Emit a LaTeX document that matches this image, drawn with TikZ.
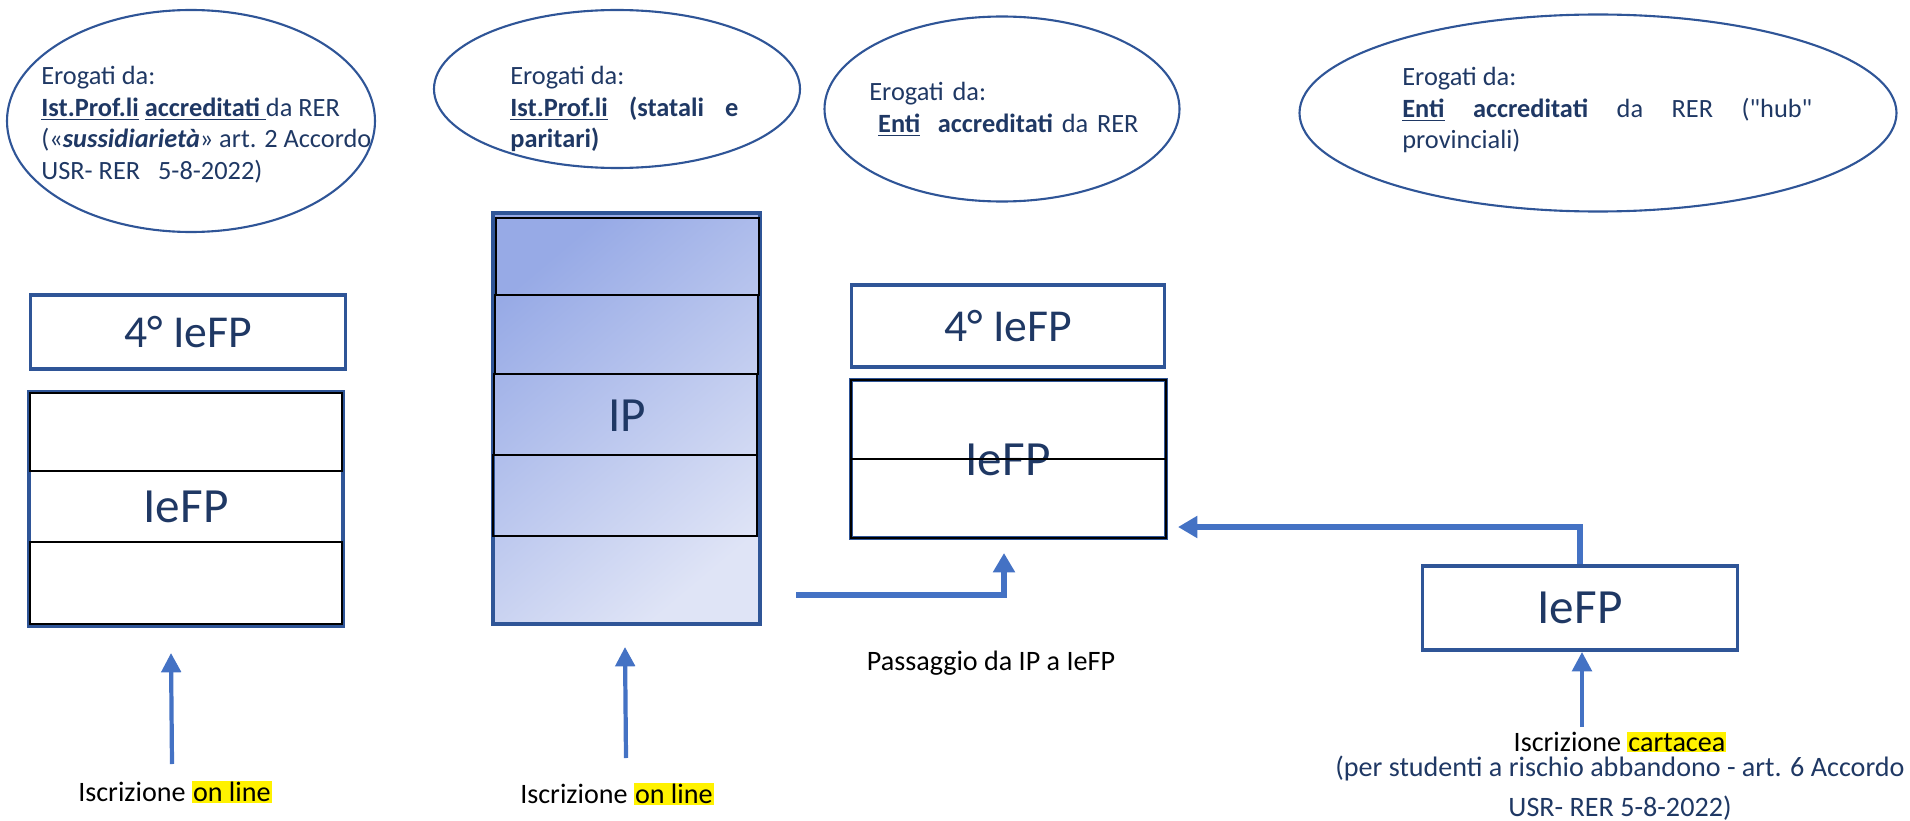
\documentclass[tikz,border=0pt]{standalone}
\usepackage{fontspec}
\setmainfont{Carlito}[Ligatures=TeXOff]
\usepackage{xcolor}
\usepackage{tikz}
\usetikzlibrary{arrows,arrows.meta,positioning,shapes.geometric}
\definecolor{boxblue}{HTML}{2F5597}
\definecolor{arrowblue}{HTML}{4472C4}
\definecolor{navy}{HTML}{1F3864}
\definecolor{ipdark}{HTML}{97AAE6}
\definecolor{iplight}{HTML}{DFE4F6}
\setlength{\fboxsep}{0.6pt}
\newcommand{\hl}[1]{\colorbox{yellow}{#1}}
\tikzset{
  oval/.style={ellipse, draw=boxblue, line width=1.2pt, inner sep=0pt},
  ovaltext/.style={anchor=north west, text=navy, align=justify, font=\fontsize{15}{18}\selectfont, inner sep=0pt},
  yearbox/.style={draw=boxblue, line width=2.2pt, text=navy, font=\fontsize{26}{30}\selectfont},
  rowline/.style={draw=black, line width=1pt},
  flow/.style={draw=arrowblue, line width=3.3pt, -{Triangle[length=11pt,width=12pt]}},
  upflow/.style={draw=arrowblue, line width=2.4pt, -{Triangle[length=11pt,width=11pt]}},
  note/.style={font=\fontsize{16}{20}\selectfont},
}
\begin{document}
\begin{tikzpicture}[x=0.2mm, y=-0.2mm]
\useasboundingbox (0,0) rectangle (1910,821);
%%%%% Ovals %%%%%
\node[oval, minimum width=368*0.2mm, minimum height=222*0.2mm] (ovalA) at (191,121) {};
\node[oval, minimum width=366*0.2mm, minimum height=158*0.2mm] (ovalB) at (617,89) {};
\node[oval, minimum width=355*0.2mm, minimum height=185*0.2mm] (ovalC) at (1002,109) {};
\node[oval, minimum width=597*0.2mm, minimum height=197*0.2mm] (ovalD) at (1598,113) {};
\node[ovaltext, text width=330*0.2mm] (textA) at (41,66) {Erogati da:\\
  \underline{\textbf{Ist.Prof.li}} \underline{\textbf{accreditati }}da RER\\
  («\textbf{\textit{sussidiarietà}}» art. 2 Accordo\linebreak USR- RER\ \ \ 5-8-2022)};
\node[ovaltext, text width=228*0.2mm] (textB) at (510,66) {Erogati da:\\
  \underline{\textbf{Ist.Prof.li}} \textbf{(statali e\linebreak paritari)}};
\node[ovaltext, text width=300*0.2mm, align=left] (textC) at (869,82) {Erogati da:\\
  \ \underline{\textbf{Enti}}\ \ \textbf{accreditati} da RER};
\node[ovaltext, text width=410*0.2mm] (textD) at (1402,67) {Erogati da:\\
  \underline{\textbf{Enti}} \textbf{accreditati} da RER ("hub"\linebreak provinciali)};
%%%%% Left column %%%%%
\node[yearbox, minimum width=315*0.2mm, minimum height=74*0.2mm] (yearA) at (188,332) {4° IeFP};
\draw[boxblue, line width=2.2pt] (29,392) rectangle (343,626);
\draw[rowline] (30,393) rectangle (342,471);
\draw[rowline] (30,542) rectangle (342,624);
\node[text=navy, font=\fontsize{28}{32}\selectfont] (iefpA) at (186,507) {IeFP};
%%%%% IP column %%%%%
\draw[boxblue, line width=2.2pt, top color=ipdark, bottom color=iplight, shading angle=40] (493,213) rectangle (760,624);
\draw[rowline] (496,218) rectangle (759,295);
\draw[rowline] (495,295) rectangle (758,374);
\draw[rowline] (494,374) rectangle (757,455);
\draw[rowline] (493,455) rectangle (757,536);
\node[text=navy, font=\fontsize{28}{32}\selectfont] (ipA) at (627,416) {IP};
%%%%% Middle column %%%%%
\node[yearbox, minimum width=313*0.2mm, minimum height=82*0.2mm] (yearB) at (1008,326) {4° IeFP};
\draw[boxblue, line width=2.2pt] (851,380) rectangle (1166,538);
\node[text=navy, font=\fontsize{28}{32}\selectfont] (iefpB) at (1008,460) {IeFP};
\draw[rowline] (851,380) rectangle (1166,538);
\draw[rowline] (851,459) -- (1166,459);
%%%%% Right box %%%%%
\node[yearbox, font=\fontsize{28}{32}\selectfont, minimum width=315*0.2mm, minimum height=84*0.2mm] (iefpC) at (1580,608) {IeFP};
%%%%% Arrows %%%%%
\coordinate (ipout) at (796,595);
\coordinate (iefpin) at (1004,553);
\coordinate (backin) at (1178,527);
\draw[flow] (ipout) -| (iefpin);
\draw[flow] (iefpC.north) |- (backin);
\coordinate (upA) at (172,764);
\coordinate (tipA) at (171,653);
\coordinate (upB) at (626,758);
\coordinate (tipB) at (625,647);
\coordinate (upC) at (1582,727);
\draw[upflow] (upA) -- (tipA);
\draw[upflow] (upB) -- (tipB);
\draw[upflow] (upC) -- ([xshift=2*0.2mm]iefpC.south);
%%%%% Labels %%%%%
\node[note] (passA) at (991,663) {Passaggio da IP a IeFP};
\node[note] (iscrA) at (175,792) {Iscrizione \hl{on line}};
\node[note] (iscrB) at (617,794) {Iscrizione \hl{on line}};
\node[note] (iscrC) at (1620,742) {Iscrizione \hl{cartacea}};
\node[note, text=navy, align=center, font=\fontsize{16}{22.5}\selectfont] (iscrD) at (1620,788) {(per studenti a rischio abbandono - art. 6 Accordo\\ USR- RER 5-8-2022)};
\end{tikzpicture}
\end{document}
